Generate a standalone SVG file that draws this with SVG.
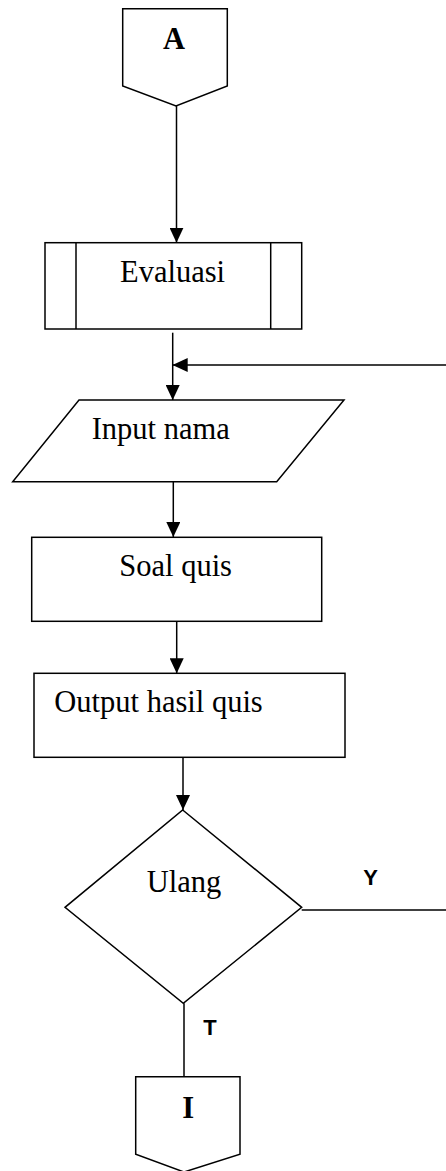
<svg xmlns="http://www.w3.org/2000/svg" width="446" height="1171" viewBox="0 0 446 1171">
<style>
.shape{fill:#fff;stroke:#000;stroke-width:1.5}
.line{fill:none;stroke:#000;stroke-width:1.5}
.lbl{font-family:"Liberation Serif","Times New Roman",serif;font-size:30.5px;fill:#000}
.bold{font-weight:bold}
.edge{font-family:"Liberation Sans",Arial,sans-serif;font-size:22px;font-weight:bold;fill:#000;text-anchor:middle}
</style>
<defs>
<marker id="arr" markerUnits="userSpaceOnUse" markerWidth="15" markerHeight="14" refX="15" refY="7" orient="auto">
<path d="M0,0 L15,7 L0,14 Z" fill="#000"/>
</marker>
</defs>
<g id="connectors">
<line class="line" x1="176.5" y1="106" x2="176.5" y2="242.7" marker-end="url(#arr)"/>
<line class="line" x1="172.7" y1="332.7" x2="172.7" y2="400" marker-end="url(#arr)"/>
<line class="line" x1="446" y1="365" x2="172.7" y2="365" marker-end="url(#arr)"/>
<line class="line" x1="173.3" y1="481.7" x2="173.3" y2="537" marker-end="url(#arr)"/>
<line class="line" x1="176.7" y1="621.3" x2="176.7" y2="673.3" marker-end="url(#arr)"/>
<line class="line" x1="183" y1="757.3" x2="183" y2="810" marker-end="url(#arr)"/>
<line class="line" x1="301.7" y1="910" x2="446" y2="910"/>
<line class="line" x1="184" y1="1003.3" x2="184" y2="1076.7"/>
<text class="edge" x="370.7" y="885">Y</text>
<text class="edge" x="210" y="1035">T</text>
</g>
<g id="node-A">
<polygon class="shape" points="122.7,8.7 227.3,8.7 227.3,86 176,106 122.7,86"/>
<text class="lbl bold" x="174" y="49" text-anchor="middle">A</text>
</g>
<g id="node-evaluasi">
<rect class="shape" x="45" y="242.7" width="256.7" height="86.3"/>
<line class="line" x1="76" y1="242.7" x2="76" y2="329"/>
<line class="line" x1="270.7" y1="242.7" x2="270.7" y2="329"/>
<text class="lbl" x="120" y="282.3">Evaluasi</text>
</g>
<g id="node-input">
<polygon class="shape" points="79,400 344,400 276.7,481.7 12.7,481.7"/>
<text class="lbl" x="91.7" y="439">Input nama</text>
</g>
<g id="node-soal">
<rect class="shape" x="31.7" y="537.3" width="290" height="84"/>
<text class="lbl" x="119.3" y="576">Soal quis</text>
</g>
<g id="node-output">
<rect class="shape" x="34" y="673.3" width="311" height="84"/>
<text class="lbl" x="54.3" y="712.3">Output hasil quis</text>
</g>
<g id="node-ulang">
<polygon class="shape" points="182.7,810 301.7,907.3 183.3,1003.3 65,907.3"/>
<text class="lbl" x="146.7" y="891.7">Ulang</text>
</g>
<g id="node-I">
<polygon class="shape" points="135.7,1076.7 240,1076.7 240,1154.3 184,1172 135.7,1154.3"/>
<text class="lbl bold" x="188.3" y="1118.3" text-anchor="middle">I</text>
</g>
</svg>
